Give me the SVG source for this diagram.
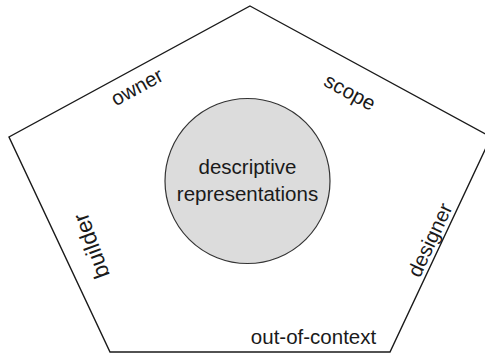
<svg xmlns="http://www.w3.org/2000/svg" width="485" height="354" viewBox="0 0 485 354">
<style>
.edge{fill:none;stroke:#1a1a1a;stroke-width:1.4;stroke-linejoin:miter}
.lbl{font-family:"Liberation Sans",Arial,sans-serif;font-size:20.5px;fill:#1a1a1a;text-anchor:middle}
.big{font-size:22.5px}
.core{fill:#dcdcdc;stroke:#333;stroke-width:1.2}
</style>
<rect width="485" height="354" fill="#fff"/>
<g id="pentagon">
<polygon class="edge" points="250,6 491,137 390,352 110,352 9,137"/>
</g>
<g id="center-node">
<circle class="core" cx="247.5" cy="181" r="82.5"/>
<text class="lbl" x="247.5" y="174">descriptive</text>
<text class="lbl" x="247.5" y="201">representations</text>
</g>
<g id="owner"><text class="lbl" transform="translate(137,87) rotate(-28.5)" y="7">owner</text></g>
<g id="scope"><text class="lbl" transform="translate(350,92) rotate(28.5)" y="7">scope</text></g>
<g id="builder"><text class="lbl big" transform="translate(91,246) rotate(-110)" y="8">builder</text></g>
<g id="designer"><text class="lbl" transform="translate(430,240) rotate(-65)" y="7">designer</text></g>
<g id="out-of-context"><text class="lbl" x="313.5" y="344">out-of-context</text></g>
<g id="connectors"></g>
</svg>
